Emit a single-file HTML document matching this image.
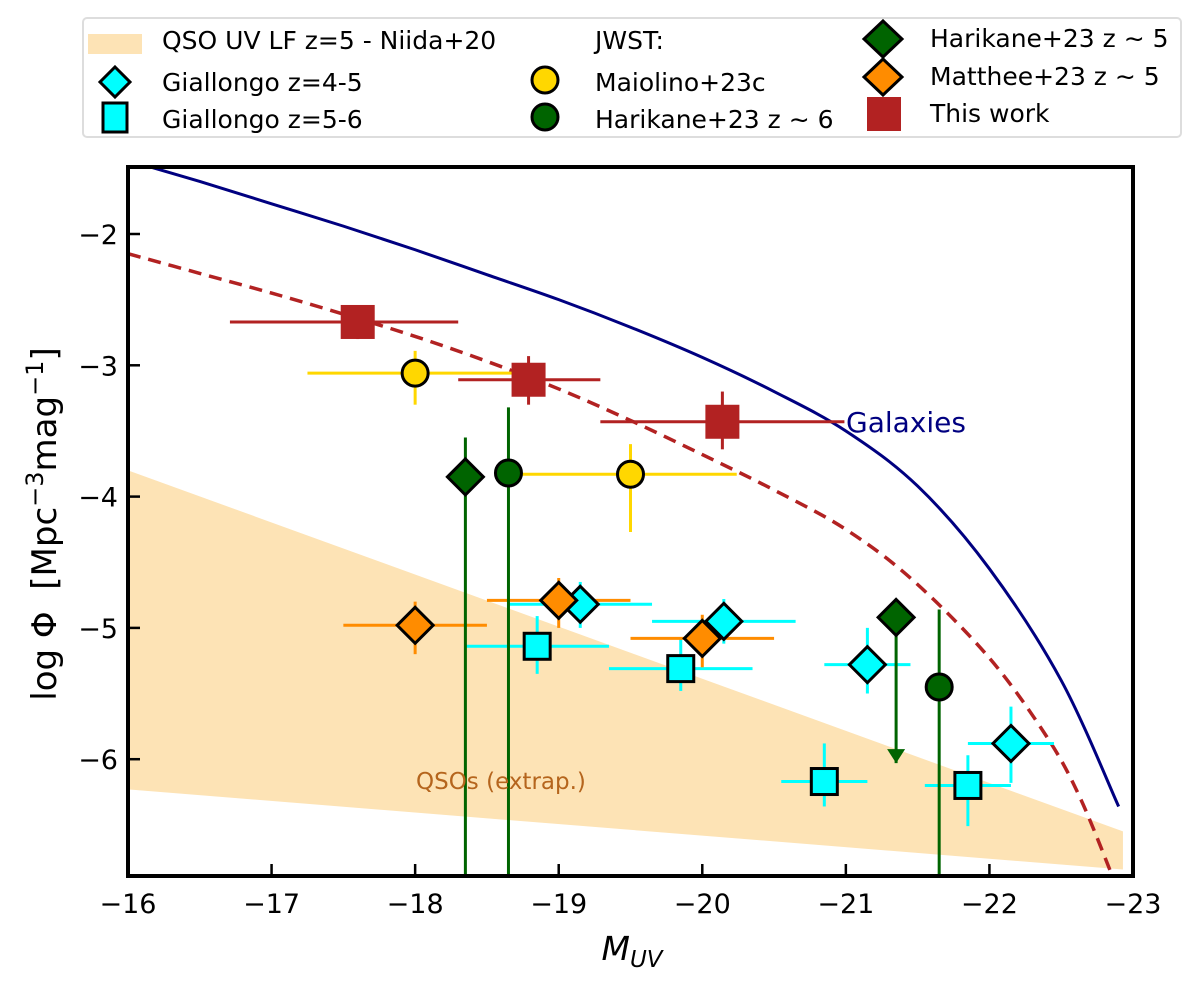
<!DOCTYPE html>
<html><head><meta charset="utf-8"><style>
body{margin:0;background:#fff;}
svg text{font-family:"DejaVu Sans","Liberation Sans",sans-serif;}
</style></head><body>
<svg id="chart" width="1200" height="984" xmlns="http://www.w3.org/2000/svg">
<g id="plot"></g>
</svg>
<script>
// ---- data ----
const bandX = [-16, -22.93];
const bandUpper = [-3.80, -6.55];
const bandLower = [-6.23, -6.84];
const galaxyM = [-16,-16.5,-17,-17.5,-18,-18.5,-19,-19.5,-20,-20.5,-21,-21.5,-22,-22.5,-22.9];
const galaxyPhi = [-1.44,-1.60,-1.77,-1.94,-2.12,-2.31,-2.50,-2.71,-2.94,-3.20,-3.50,-3.92,-4.55,-5.40,-6.36];
const qsoFitM = [-16,-16.5,-17,-17.5,-18,-18.5,-19,-19.5,-20,-20.5,-21,-21.47,-22,-22.4,-22.63,-22.86];
const qsoFitPhi = [-2.15,-2.30,-2.45,-2.61,-2.78,-2.97,-3.18,-3.42,-3.68,-3.95,-4.25,-4.64,-5.23,-5.83,-6.29,-6.90];
// This work
const twM = [-17.60,-18.79,-20.14];
const twPhi = [-2.67,-3.11,-3.43];
const twXlo = [-16.71,-18.30,-19.29], twXhi = [-18.30,-19.29,-20.99];
const twYlo = [-2.55,-2.93,-3.20], twYhi = [-2.80,-3.30,-3.64];
// Maiolino+23c
const maM = [-18.0,-19.5];
const maPhi = [-3.06,-3.83];
const maXlo = [-17.25,-18.73], maXhi = [-18.73,-20.24];
const maYlo = [-2.89,-3.60], maYhi = [-3.30,-4.27];
// Harikane z~6
const h6M = [-18.65,-21.65];
const h6Phi = [-3.82,-5.45];
const h6Ylo = [-3.32,-4.86], h6Yhi = [-6.9,-6.9];
// Harikane z~5
const h5M = [-18.35,-21.35];
const h5Phi = [-3.85,-4.92];
const h5Ylo = [-3.55,-4.92], h5Yhi = [-6.9,-6.03];
const h5Limit = [false,true];
// Giallongo z=4-5
const g45M = [-19.15,-20.15,-21.15,-22.15];
const g45Phi = [-4.82,-4.95,-5.28,-5.88];
const g45Xlo = [-18.65,-19.65,-20.85,-21.85], g45Xhi = [-19.65,-20.65,-21.45,-22.45];
const g45Ylo = [-4.65,-4.78,-5.00,-5.60], g45Yhi = [-5.00,-5.12,-5.50,-6.18];
// Giallongo z=5-6
const g56M = [-18.85,-19.85,-20.85,-21.85];
const g56Phi = [-5.14,-5.31,-6.17,-6.20];
const g56Xlo = [-18.35,-19.35,-20.55,-21.55], g56Xhi = [-19.35,-20.35,-21.15,-22.15];
const g56Ylo = [-4.91,-5.08,-5.88,-5.97], g56Yhi = [-5.35,-5.48,-6.36,-6.51];
// Matthee z~5
const mtM = [-18.0,-19.0,-20.0];
const mtPhi = [-4.98,-4.79,-5.08];
const mtXlo = [-17.5,-18.5,-19.5], mtXhi = [-18.5,-19.5,-20.5];
const mtYlo = [-4.80,-4.62,-4.90], mtYhi = [-5.20,-5.00,-5.30];
const xTicks = [-16,-17,-18,-19,-20,-21,-22,-23];
const yTicks = [-2,-3,-4,-5,-6];

// ---- axes ----
const L=128,R=1133,T=167,B=876;
const X = m => L + (m - (-16)) / (-7) * (R - L);
const Y = v => 234 + (-2 - v) * 131.3;
const NS="http://www.w3.org/2000/svg";
const g=document.getElementById('plot');
function mk(tag, attrs, parent){const e=document.createElementNS(NS,tag);for(const k in attrs)e.setAttribute(k,attrs[k]);(parent||g).appendChild(e);return e;}
function smoothPath(M,P){
  const p=M.map((m,i)=>[X(m),Y(P[i])]);
  let d='M'+p[0][0]+','+p[0][1];
  for(let i=0;i<p.length-1;i++){
    const p0=p[i-1]||p[i],p1=p[i],p2=p[i+1],p3=p[i+2]||p2;
    const c1=[p1[0]+(p2[0]-p0[0])/6,p1[1]+(p2[1]-p0[1])/6];
    const c2=[p2[0]-(p3[0]-p1[0])/6,p2[1]-(p3[1]-p1[1])/6];
    d+=` C${c1[0]},${c1[1]} ${c2[0]},${c2[1]} ${p2[0]},${p2[1]}`;
  }
  return d;
}

const clip=mk('clipPath',{id:'pc'});mk('rect',{x:L,y:T,width:R-L,height:B-T},clip);
const inner=mk('g',{'clip-path':'url(#pc)'});

let band=mk('polygon',{points:`${X(bandX[0])},${Y(bandUpper[0])} ${X(bandX[1])},${Y(bandUpper[1])} ${X(bandX[1])},${Y(bandLower[1])} ${X(bandX[0])},${Y(bandLower[0])}`,fill:'#fde3b5'},inner);



let gl=mk('path',{d:smoothPath(galaxyM,galaxyPhi),fill:'none',stroke:'#000080','stroke-width':3},inner);


let ql=mk('path',{d:smoothPath(qsoFitM,qsoFitPhi),fill:'none',stroke:'#b22222','stroke-width':3.5,'stroke-dasharray':'13,8'},inner);



function errs(M,P,xlo,xhi,ylo,yhi,col,w){
  M.forEach((m,i)=>{
    if(xlo){let e=mk('line',{x1:X(xlo[i]),x2:X(xhi[i]),y1:Y(P[i]),y2:Y(P[i]),stroke:col,'stroke-width':w},inner);
      
      }
    if(ylo){let e=mk('line',{x1:X(m),x2:X(m),y1:Y(ylo[i]),y2:Y(yhi[i]),stroke:col,'stroke-width':w},inner);
      
      }
  });
}
function marker(shape,x,y,s,fill,stroke,parent){
  let e;
  if(shape==='d') e=mk('polygon',{points:`${x},${y-s} ${x+s},${y} ${x},${y+s} ${x-s},${y}`,fill,stroke,'stroke-width':stroke?3:0},parent);
  else if(shape==='s') e=mk('rect',{x:x-s,y:y-s,width:2*s,height:2*s,fill,stroke:stroke||'none','stroke-width':stroke?3:0},parent);
  else e=mk('circle',{cx:x,cy:y,r:s,fill,stroke,'stroke-width':3},parent);
  return e;
}
function pts(M,P,shape,s,fill,stroke,name){
  M.forEach((m,i)=>{const e=marker(shape,X(m),Y(P[i]),s,fill,stroke,inner);
    
    });
}
errs(g45M,g45Phi,g45Xlo,g45Xhi,g45Ylo,g45Yhi,'#00ffff',3);
errs(g56M,g56Phi,g56Xlo,g56Xhi,g56Ylo,g56Yhi,'#00ffff',3);
errs(mtM,mtPhi,mtXlo,mtXhi,mtYlo,mtYhi,'#ff8c00',3);
errs(maM,maPhi,maXlo,maXhi,maYlo,maYhi,'#ffd700',3);
errs(h6M,h6Phi,null,null,h6Ylo,h6Yhi,'#006400',3);
errs(h5M,h5Phi,null,null,h5Ylo,h5Yhi,'#006400',3);
h5M.forEach((m,i)=>{if(h5Limit[i]){const x=X(m),y=Y(h5Yhi[i]);
  let a=mk('polygon',{points:`${x-9},${y-14} ${x+9},${y-14} ${x},${y}`,fill:'#006400'},inner);
  
  }});
errs(twM,twPhi,twXlo,twXhi,twYlo,twYhi,'#b22222',3);
pts(g56M,g56Phi,'s',13,'#00ffff','#000','giallongo-z5-6-point');
pts(g45M,g45Phi,'d',18,'#00ffff','#000','giallongo-z4-5-point');
pts(mtM,mtPhi,'d',18,'#ff8c00','#000','matthee-point');
pts(maM,maPhi,'c',13,'#ffd700','#000','maiolino-point');
pts(h6M,h6Phi,'c',13,'#006400','#000','harikane-z6-point');
pts(h5M,h5Phi,'d',18,'#006400','#000','harikane-z5-point');
pts(twM,twPhi,'s',17,'#b22222',null,'this-work-point');

let t1=mk('text',{x:846,y:432,fill:'#000080','font-size':28});t1.textContent='Galaxies';


let t2=mk('text',{x:416,y:789,fill:'#b5651d','font-size':23});t2.textContent='QSOs (extrap.)';



let fr=mk('rect',{x:L,y:T,width:R-L,height:B-T,fill:'none',stroke:'#000','stroke-width':4});


xTicks.forEach(t=>{const x=X(t);
  let l=mk('line',{x1:x,x2:x,y1:B,y2:B-12,stroke:'#000','stroke-width':2.5});
  
  
  let tx=mk('text',{x:x,y:B+37,'font-size':27,'text-anchor':'middle'});tx.textContent='\u2212'+Math.abs(t);
  
  });
yTicks.forEach(t=>{const y=Y(t);
  let l=mk('line',{x1:L,x2:L+12,y1:y,y2:y,stroke:'#000','stroke-width':2.5});
  
  
  let tx=mk('text',{x:L-10,y:y+10,'font-size':27,'text-anchor':'end'});tx.textContent='\u2212'+Math.abs(t);
  
  });
</script>
<svg style="position:absolute;left:0;top:0" width="1200" height="984" xmlns="http://www.w3.org/2000/svg">
<text x="632" y="960" font-size="33" font-style="italic" text-anchor="middle" font-family="DejaVu Sans">M<tspan font-size="23" dy="7">UV</tspan></text>
<text transform="translate(56,524) rotate(-90)" font-size="34" text-anchor="middle" font-family="DejaVu Sans" xml:space="preserve">log Φ  [Mpc<tspan font-size="24" dy="-13">−3</tspan><tspan dy="13">mag</tspan><tspan font-size="24" dy="-13">−1</tspan><tspan dy="13">]</tspan></text>
<g font-family="DejaVu Sans" font-size="25">
<rect x="83" y="18" width="1098" height="119" rx="4" fill="#fff" stroke="#ddd" stroke-width="2"/>
<rect x="88" y="34" width="54" height="20" fill="#fde3b5"/>
<text x="162" y="49">QSO UV LF z=5 - Niida+20</text>
<polygon points="115,67 130,82 115,97 100,82" fill="#00ffff" stroke="#000" stroke-width="3"/>
<text x="162" y="91">Giallongo z=4-5</text>
<rect x="103" y="103" width="24" height="29" fill="#00ffff" stroke="#000" stroke-width="3"/>
<text x="162" y="128">Giallongo z=5-6</text>
<text x="595" y="49">JWST:</text>
<circle cx="545" cy="80" r="13" fill="#ffd700" stroke="#000" stroke-width="3"/>
<text x="595" y="91">Maiolino+23c</text>
<circle cx="545" cy="117" r="13" fill="#006400" stroke="#000" stroke-width="3"/>
<text x="595" y="128">Harikane+23 z ∼ 6</text>
<polygon points="883,21 902,39 883,57 864,39" fill="#006400" stroke="#000" stroke-width="3"/>
<text x="930" y="47">Harikane+23 z ∼ 5</text>
<polygon points="883,59 902,77 883,95 864,77" fill="#ff8c00" stroke="#000" stroke-width="3"/>
<text x="930" y="85">Matthee+23 z ∼ 5</text>
<rect x="867" y="97" width="34" height="34" fill="#b22222"/>
<text x="930" y="122">This work</text>
</g>
</svg>
</body></html>
